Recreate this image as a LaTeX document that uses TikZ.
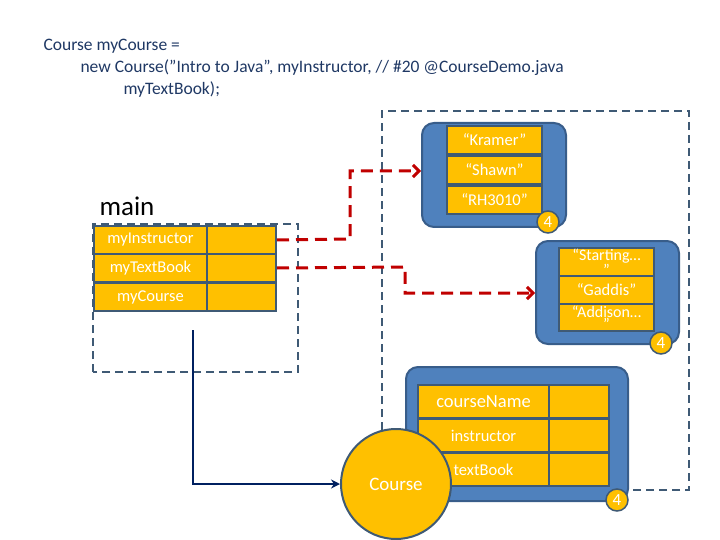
\documentclass[tikz,border=0pt]{standalone}
\usepackage{fontspec}
\setmainfont{Carlito}
\usetikzlibrary{arrows.meta}
\definecolor{obj}{HTML}{4F81BD}
\definecolor{edge}{HTML}{385D8A}
\definecolor{gold}{HTML}{FFC000}
\definecolor{cell}{HTML}{3F5A75}
\definecolor{dred}{HTML}{C00000}
\definecolor{navy}{HTML}{002060}
\definecolor{code}{HTML}{1F3864}
\tikzset{
 objbox/.style={draw=edge,fill=obj,line width=2pt,rounded corners=12pt},
 cellbox/.style={draw=cell,fill=gold,line width=2pt,inner sep=1pt},
 badge/.style={circle,draw=cell,fill=gold,line width=1.5pt,inner sep=0pt,minimum size=22pt,text=white,font=\fontsize{17}{17}\selectfont},
 frame/.style={draw=cell,line width=2pt,dash pattern=on 8pt off 5pt},
 ref/.style={draw=dred,line width=3pt,dash pattern=on 12pt off 7pt,-{Straight Barb[length=6pt,width=12pt]}},
 wt/.style={text=white,font=\fontsize{16.5}{18}\selectfont},
 codetext/.style={anchor=west,text=code,font=\fontsize{17.5}{19}\selectfont},
}
\begin{document}
\begin{tikzpicture}[x=1pt,y=-1pt]
\useasboundingbox (0,0) rectangle (720,540);
% frames
\draw[frame] (93,372) -- (93,224) -- (298,224) -- (298,372) -- cycle;
\draw[frame] (382,430) -- (382,111) -- (689,111) -- (689,490) -- (628,490);
% code text
\node[codetext] (c1) at (40,46) {Course myCourse =};
\node[codetext] (c2) at (77,68) {new Course("Intro to Java", myInstructor, // \#20 @CourseDemo.java};
\node[codetext] (c3) at (120,90) {myTextBook);};
\node[anchor=west,font=\fontsize{27}{28}\selectfont] (main) at (96,206) {main};
% main table
\foreach \n/\t/\ya in {mi/myInstructor/225, mt/myTextBook/253, mc/myCourse/282}{
 \node[cellbox,wt,minimum width=113pt,minimum height=28pt,anchor=north west] (\n) at (93,\ya) {\t};
 \node[cellbox,minimum width=69pt,minimum height=28pt,anchor=north west] (\n v) at (206,\ya) {};
}
% object 1
\node[objbox,minimum width=144pt,minimum height=104pt,anchor=north west] (o1) at (421,122) {};
\foreach \n/\t/\ya in {k/“Kramer”/125, s/“Shawn”/155, r/“RH3010”/185}{
 \node[cellbox,wt,minimum width=95pt,minimum height=28pt,anchor=north west] (\n) at (446,\ya) {\t};
}
\node[badge] (b1) at (548,222) {4};
% object 2
\node[objbox,minimum width=143pt,minimum height=103pt,anchor=north west] (o2) at (535,240) {};
\node[cellbox,wt,minimum width=95pt,minimum height=27pt,anchor=north west,align=center,font=\fontsize{16}{10}\selectfont] (st) at (558,247) {“Starting…\\”};
\node[cellbox,wt,minimum width=95pt,minimum height=28pt,anchor=north west] (ga) at (558,275) {“Gaddis”};
\node[cellbox,wt,minimum width=95pt,minimum height=27pt,anchor=north west,align=center,font=\fontsize{16}{10}\selectfont] (ad) at (558,303) {“Addison…\\”};
\node[badge] (b2) at (661,343) {4};
% object 3
\node[objbox,minimum width=222pt,minimum height=134pt,anchor=north west] (o3) at (405,366) {};
\foreach \n/\t/\ya in {cn/courseName/384, in/instructor/418, tb/textBook/452}{
 \node[cellbox,wt,minimum width=131pt,minimum height=33pt,anchor=north west] (\n) at (417,\ya) {\t};
 \node[cellbox,minimum width=60pt,minimum height=33pt,anchor=north west] (\n v) at (548,\ya) {};
}
\node[cellbox,wt,font=\fontsize{18.5}{20}\selectfont,minimum width=131pt,minimum height=33pt,anchor=north west] (cn2) at (417,384) {courseName};
\node[badge] (b3) at (617,500) {4};
\node[circle,draw=cell,fill=gold,line width=2pt,minimum size=110pt,text=white,font=\fontsize{19}{20}\selectfont] (course) at (396,484) {Course};
% references
\coordinate (e1) at (421,171);
\coordinate (e2) at (535,293);
\draw[ref] (miv.east) -- (350,239) -- (350,171) -- (e1);
\draw[ref] (mtv.east) -- (405,267) -- (405,293) -- (e2);
\draw[draw=navy,line width=2.5pt,-{Stealth[length=9pt,width=9pt]}] (193,330) -- (193,484) -- (course.west);
\end{tikzpicture}
\end{document}
